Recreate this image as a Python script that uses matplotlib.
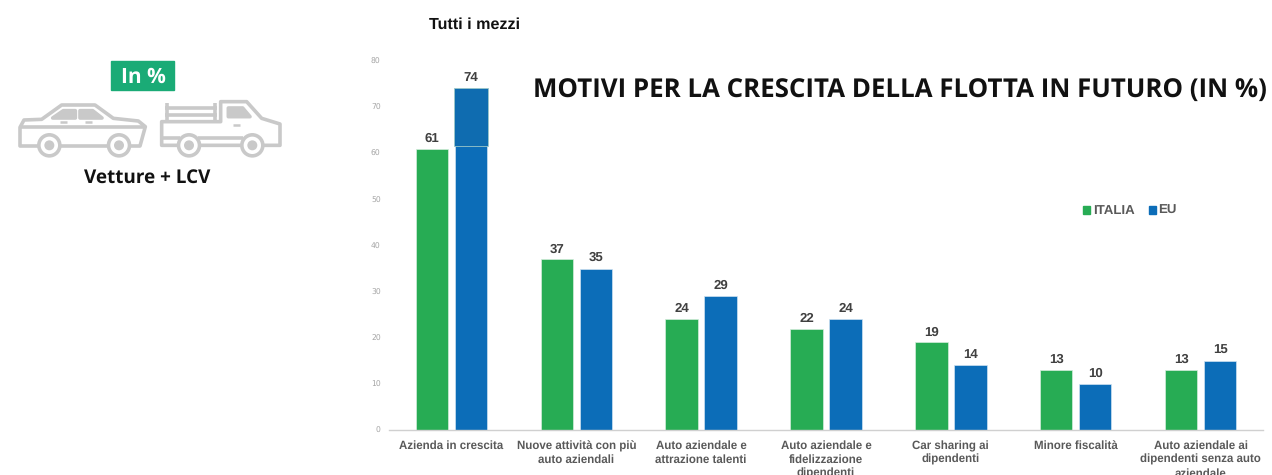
import numpy as np
import matplotlib
matplotlib.use('Agg')
import matplotlib.pyplot as plt
from matplotlib.patches import Circle, Polygon, Rectangle

plt.rcParams['text.hinting'] = 'no_hinting'

categories = ['Azienda in crescita', 'Nuove attività con più\nauto aziendali',
              'Auto aziendale e\nattrazione talenti',
              'Auto aziendale e\nfidelizzazione\ndipendenti',
              'Car sharing ai\ndipendenti', 'Minore fiscalità',
              'Auto aziendale ai\ndipendenti senza auto\naziendale']
italia = [61, 37, 24, 22, 19, 13, 13]
eu = [74, 35, 29, 24, 14, 10, 15]
yticks = [0, 10, 20, 30, 40, 50, 60, 70, 80]

GREEN = '#27ac54'
BLUE = '#0c6db8'
ICON = '#c9c9c9'
HEAD = 'Open Sans'


def zx(x):
    return x / 3


def zy(y):
    return y / 3 + 40


def poly(ov, pts, fill=False):
    pts = [(zx(x), zy(y)) for x, y in pts]
    ov.add_patch(Polygon(pts, closed=True, fill=fill, facecolor=ICON, edgecolor=ICON, lw=2.6, joinstyle='round'))


def line(ov, xs, ys, lw=2.6):
    ov.plot([zx(x) for x in xs], [zy(y) for y in ys], color=ICON, lw=lw, solid_capstyle='butt')


def wheel(ov, x, y):
    ov.add_patch(Circle((zx(x), zy(y)), 10.5, facecolor='white', edgecolor=ICON, lw=2.6, zorder=3))
    ov.add_patch(Circle((zx(x), zy(y)), 5, facecolor=ICON, edgecolor='none', zorder=4))


def draw_icons(ov):
    # car
    poly(ov, [(60, 262), (72, 240), (125, 238), (185, 195), (285, 195), (340, 235), (415, 243),
              (436, 260), (420, 318), (60, 318)])
    line(ov, [62, 434], [260, 260])
    poly(ov, [(158, 234), (190, 212), (226, 212), (226, 234)], fill=True)
    poly(ov, [(240, 212), (278, 212), (306, 234), (240, 234)], fill=True)
    line(ov, [180, 200], [246, 246], 1.8)
    line(ov, [255, 275], [246, 246], 1.8)
    wheel(ov, 148, 316)
    wheel(ov, 357, 316)

    # pickup
    poly(ov, [(485, 245), (662, 245), (662, 185), (740, 185), (785, 235), (840, 252),
              (840, 316), (485, 316)])
    for y in [203, 226]:
        line(ov, [495, 650], [y, y])
    for x in [500, 645]:
        line(ov, [x, x], [188, 245])
    poly(ov, [(685, 204), (728, 204), (750, 230), (685, 230)], fill=True)
    line(ov, [700, 720], [255, 255], 1.8)
    line(ov, [485, 540], [294, 294])
    line(ov, [595, 730], [294, 294])
    wheel(ov, 567, 316)
    wheel(ov, 757, 316)


def main():
    fig = plt.figure(figsize=(12.72, 4.75), dpi=100)
    ax = fig.add_axes([389 / 1272, 1 - 430 / 475, 874 / 1272, 369 / 475])

    x = np.arange(len(categories))
    ax.bar(x - 0.156, italia, 0.26, color=GREEN, edgecolor='#d5ecdc', linewidth=0.5)
    ax.bar(x + 0.156, eu, 0.26, color=BLUE, edgecolor='#cfe2f1', linewidth=0.5)
    # top of the first EU bar is a slightly wider pasted block
    ax.bar(x[0] + 0.156, eu[0] - 61.5 + 0.2, 0.275, bottom=61.5, color='#0f6cb0', edgecolor='#9cc7c9', linewidth=0.6)

    for i in range(len(categories)):
        ax.text(x[i] - 0.156, italia[i] + 0.9, str(italia[i]), ha='center', va='bottom', fontsize=9.5,
                fontweight='bold', color='#404040', family='Liberation Sans')
        ax.text(x[i] + 0.156, eu[i] + 1.0, str(eu[i]), ha='center', va='bottom', fontsize=9.5,
                fontweight='bold', color='#404040', family='Liberation Sans')

    ax.set_xlim(-0.5, 6.5)
    ax.set_ylim(0, 80)
    ax.set_yticks(yticks)
    ax.set_xticks(x)
    ax.set_xticklabels(categories, fontsize=8.3, fontweight='bold', color='#595959',
                       family='Liberation Sans', linespacing=1.3)
    ax.tick_params(axis='x', length=0, pad=7.5)
    ax.tick_params(axis='y', length=0, pad=6, labelsize=5.5, labelcolor='#a6a6a6')
    for label in ax.get_yticklabels():
        label.set_verticalalignment('center_baseline')
    for s in ['top', 'right', 'left']:
        ax.spines[s].set_visible(False)
    ax.spines['bottom'].set_color('#d0d0d0')
    ax.spines['bottom'].set_linewidth(1)

    # overlay in pixel coordinates for the titles, legend and icons
    ov = fig.add_axes([0, 0, 1, 1], facecolor='none')
    ov.set_xlim(0, 1272)
    ov.set_ylim(475, 0)
    ov.axis('off')

    ov.text(475, 29, 'Tutti i mezzi', ha='center', va='baseline', fontsize=11.6, fontweight='bold',
            color='#111111', family='Liberation Sans')
    ov.text(899.5, 97, 'MOTIVI PER LA CRESCITA DELLA FLOTTA IN FUTURO (IN %)', ha='center', va='baseline',
            fontsize=18.65, fontweight='bold', color='#111111', family=HEAD)

    ov.add_patch(Rectangle((1083, 206), 7, 8, color=GREEN))
    ov.text(1093, 214, 'ITALIA', ha='left', va='baseline', fontsize=9.5, fontweight='bold',
            color='#595959', family='Liberation Sans')
    ov.add_patch(Rectangle((1149, 206), 7, 8, color=BLUE))
    ov.text(1158, 214, 'EU', ha='left', va='baseline', fontsize=9.5, fontweight='bold',
            color='#595959', family='Liberation Sans')

    ov.add_patch(Rectangle((111, 61), 63, 29, color='#1aab76'))
    ov.text(143, 83, 'In %', ha='center', va='baseline', fontsize=15, fontweight='bold',
            color='white', family=HEAD)

    draw_icons(ov)
    ov.text(147, 183, 'Vetture + LCV', ha='center', va='baseline', fontsize=13.6, fontweight='bold',
            color='#111111', family=HEAD)

    fig.savefig('out.png', dpi=100)


if __name__ == "__main__":
    main()
